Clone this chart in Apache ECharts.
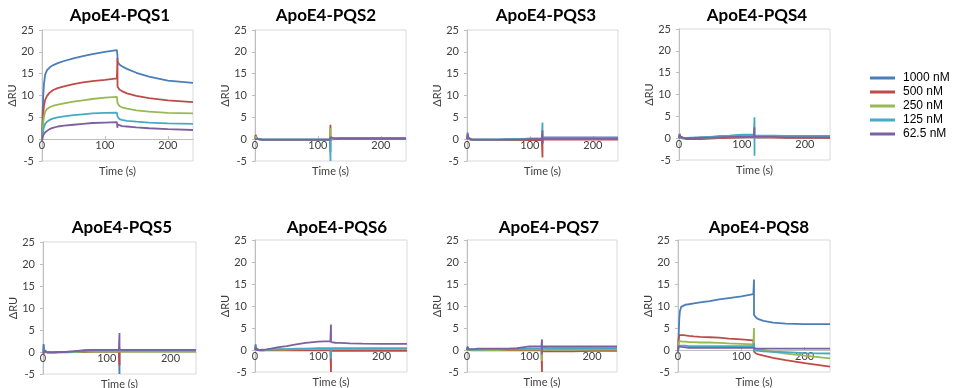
<!DOCTYPE html>
<html><head><meta charset="utf-8">
<script src="https://cdn.jsdelivr.net/npm/echarts@6/dist/echarts.min.js"></script>
<style>html,body{margin:0;padding:0;background:#fff}#c{width:959px;height:388px}</style>
</head><body><div id="c"></div>
<script>
// Time points (s); 120 is repeated to draw the injection-end spikes
const T = [0,1,2,3,5, 8,12,17,25,35,50,65,80,100,119, 120,120,120, 121,123,127,135,150,170,200,240];

const TITLES = ['ApoE4-PQS1','ApoE4-PQS2','ApoE4-PQS3','ApoE4-PQS4','ApoE4-PQS5','ApoE4-PQS6','ApoE4-PQS7','ApoE4-PQS8'];
const NAMES = ['1000 nM','500 nM','250 nM','125 nM','62.5 nM'];
const X_TICKS = [0,100,200];
const Y_TICKS = [-5,0,5,10,15,20,25];

const p1_1000 = [-0.3,6.0,10.0,12.5,14.8, 15.8,16.4,16.9,17.4,17.9,18.5,19.0,19.5,20.0,20.4, 20.8,19.0,17.8, 17.5,17.1,16.7,16.1,15.2,14.3,13.4,12.9];
const p1_500  = [-0.3,3.5,6.0,7.5,9.0, 9.9,10.6,11.2,11.7,12.1,12.6,13.0,13.3,13.6,13.9, 18.6,13.0,12.0, 11.8,11.4,11.0,10.5,9.9,9.4,8.9,8.5];
const p1_250  = [-0.3,2.0,3.8,5.0,6.3, 6.9,7.3,7.6,7.9,8.2,8.6,8.9,9.2,9.5,9.7, 10.0,8.3,8.0, 7.9,7.6,7.3,7.0,6.6,6.3,6.0,5.9];
const p1_125  = [-0.3,1.0,2.0,2.7,3.5, 4.0,4.4,4.7,5.0,5.2,5.5,5.7,5.9,6.0,6.1, 6.3,5.2,4.9, 4.8,4.6,4.4,4.2,4.0,3.8,3.6,3.5];
const p1_62   = [-0.6,0.4,0.9,1.2,1.6, 2.0,2.3,2.6,2.9,3.1,3.3,3.5,3.7,3.8,3.9, 2.6,3.4,3.4, 3.3,3.2,3.0,2.9,2.7,2.5,2.3,2.1];

const p2_1000 = [0,0.5,0.3,0.1,0, -0.1,-0.1,-0.1,-0.1,-0.1,-0.1,-0.1,-0.1,-0.1,-0.1, -3.0,0.2,0.2, 0.2,0.2,0.2,0.3,0.3,0.3,0.3,0.3];
const p2_500  = [0,1.0,0.6,0.2,0, -0.1,-0.2,-0.2,-0.2,-0.2,-0.2,-0.2,-0.2,-0.2,-0.2, 3.3,-0.1,0.0, 0.0,0.0,0.0,0.0,0.0,0.0,0.0,0.0];
const p2_250  = [0,0.6,0.3,0.1,0, -0.1,-0.1,-0.1,-0.1,-0.1,-0.1,-0.1,-0.1,-0.1,-0.1, 2.5,0.1,0.1, 0.1,0.1,0.1,0.1,0.1,0.1,0.1,0.1];
const p2_125  = [0,0.4,0.2,0.1,0, -0.1,-0.1,-0.1,-0.1,-0.1,-0.1,-0.1,-0.1,-0.1,-0.1, -5.0,0.2,0.2, 0.2,0.2,0.2,0.2,0.2,0.2,0.2,0.2];
const p2_62   = [0,0.3,0.2,0.0,0, -0.1,-0.1,-0.1,-0.1,-0.1,-0.1,-0.1,-0.1,-0.1,-0.1, 0.5,0.1,0.1, 0.1,0.1,0.1,0.1,0.1,0.1,0.1,0.1];

const p3_1000 = [0,1.5,0.5,0.1,-0.1, -0.1,-0.1,-0.1,-0.1,-0.1,-0.1,0.0,0.0,0.1,0.1, -1.0,0.4,0.4, 0.4,0.4,0.4,0.4,0.4,0.4,0.4,0.4];
const p3_500  = [0,0.5,0.2,0.0,-0.1, -0.1,-0.2,-0.2,-0.2,-0.2,-0.2,-0.2,-0.2,-0.2,-0.2, -4.2,-0.1,-0.1, -0.1,-0.1,-0.1,-0.1,-0.1,-0.1,-0.1,-0.1];
const p3_250  = [0,0.6,0.2,0.0,-0.1, -0.1,-0.1,-0.1,-0.1,-0.1,-0.1,-0.1,-0.1,0.0,0.0, 1.0,0.1,0.1, 0.1,0.1,0.1,0.1,0.1,0.1,0.1,0.1];
const p3_125  = [0,0.8,0.3,0.0,-0.1, -0.1,-0.1,-0.1,-0.1,-0.1,-0.1,0.0,0.0,0.1,0.1, 3.8,0.3,0.3, 0.3,0.3,0.3,0.3,0.3,0.3,0.3,0.3];
const p3_62   = [0,1.0,0.3,0.0,-0.1, -0.1,-0.1,-0.1,-0.1,-0.1,-0.1,-0.1,-0.1,0.0,0.0, 2.0,-1.0,0.1, 0.1,0.1,0.1,0.1,0.1,0.1,0.1,0.1];

const p4_1000 = [0,0.8,0.3,0.1,0.0, 0.0,0.0,0.0,0.1,0.1,0.2,0.3,0.5,0.6,0.6, 1.0,0.5,0.5, 0.5,0.5,0.5,0.5,0.5,0.5,0.4,0.4];
const p4_500  = [0,0.5,0.2,0.0,-0.1, -0.1,-0.2,-0.2,-0.2,-0.2,-0.1,0.0,0.1,0.2,0.3, 0.3,0.2,0.2, 0.2,0.2,0.2,0.2,0.2,0.1,0.1,0.1];
const p4_250  = [0,0.6,0.3,0.1,0.0, 0.0,0.0,0.0,0.0,0.1,0.1,0.2,0.3,0.4,0.4, 0.4,0.3,0.3, 0.3,0.3,0.3,0.3,0.3,0.3,0.3,0.3];
const p4_125  = [0,0.7,0.3,0.1,0.0, 0.0,0.0,0.1,0.1,0.2,0.3,0.5,0.6,0.8,0.8, 4.8,-4.0,0.6, 0.6,0.6,0.6,0.6,0.6,0.5,0.5,0.5];
const p4_62   = [0,1.0,0.4,0.1,0.0, 0.0,0.0,0.0,0.0,0.1,0.1,0.2,0.3,0.3,0.3, 2.5,0.3,0.3, 0.3,0.3,0.3,0.3,0.3,0.2,0.2,0.2];

const p5_1000 = [0,1.8,0.3,0.0,-0.1, -0.1,-0.1,-0.1,0.0,0.0,0.1,0.3,0.4,0.4,0.4, -5.0,0.4,0.4, 0.4,0.4,0.4,0.4,0.4,0.4,0.4,0.4];
const p5_500  = [0,0.4,0.1,0.0,-0.1, -0.1,-0.1,-0.1,-0.1,-0.1,0.0,0.0,0.1,0.1,0.1, -3.0,0.2,0.2, 0.2,0.2,0.2,0.2,0.2,0.2,0.2,0.2];
const p5_250  = [0,0.5,0.2,0.0,-0.1, -0.1,-0.1,-0.1,-0.1,0.0,0.0,0.1,0.1,0.1,0.1, 0.5,0.1,0.1, 0.1,0.1,0.1,0.1,0.1,0.1,0.1,0.1];
const p5_125  = [0,0.7,0.2,0.0,-0.1, -0.1,-0.1,-0.1,0.0,0.0,0.1,0.2,0.3,0.3,0.3, 1.0,0.3,0.3, 0.3,0.3,0.3,0.3,0.3,0.3,0.3,0.3];
const p5_62   = [0,-0.5,0.5,0.2,0.0, -0.1,-0.1,-0.1,0.0,0.0,0.2,0.4,0.5,0.5,0.5, 4.3,0.5,0.5, 0.5,0.5,0.5,0.5,0.5,0.5,0.5,0.5];

const p6_1000 = [0,1.3,0.4,0.1,0.0, -0.1,-0.1,0.0,0.0,0.1,0.1,0.1,0.2,0.2,0.2, 0.3,0.2,0.2, 0.2,0.2,0.2,0.2,0.2,0.2,0.2,0.2];
const p6_500  = [0,0.6,0.2,0.0,-0.1, -0.1,-0.1,-0.1,-0.1,-0.1,-0.1,-0.1,-0.1,-0.1,-0.1, -5.0,-0.2,-0.2, -0.2,-0.2,-0.2,-0.2,-0.2,-0.2,-0.2,-0.2];
const p6_250  = [0,0.5,0.2,0.0,0.0, 0.0,0.0,0.0,0.1,0.1,0.1,0.2,0.2,0.2,0.2, 0.5,0.2,0.2, 0.2,0.2,0.2,0.2,0.2,0.2,0.2,0.2];
const p6_125  = [0,0.6,0.2,0.0,0.0, 0.0,0.1,0.1,0.1,0.2,0.2,0.3,0.3,0.4,0.4, -2.0,0.4,0.4, 0.4,0.4,0.4,0.4,0.4,0.4,0.4,0.4];
const p6_62   = [0,0.5,0.2,0.0,0.0, 0.0,0.0,0.1,0.3,0.6,0.9,1.3,1.6,1.9,2.0, 5.8,1.8,1.8, 1.75,1.7,1.65,1.6,1.5,1.45,1.4,1.4];

const p7_1000 = [0,0.8,0.2,0.0,0.0, 0.0,0.0,0.0,0.1,0.1,0.1,0.1,0.1,0.1,0.1, 0.5,0.2,0.2, 0.2,0.2,0.2,0.2,0.2,0.2,0.2,0.2];
const p7_500  = [0,0.5,0.1,0.0,-0.1, -0.1,-0.1,-0.1,-0.1,-0.1,-0.1,-0.1,-0.1,-0.1,-0.1, -5.0,-0.3,-0.3, -0.3,-0.3,-0.3,-0.3,-0.3,-0.3,-0.2,-0.2];
const p7_250  = [0,0.4,0.1,0.0,0.0, 0.0,0.0,0.0,0.0,0.0,0.0,0.1,0.1,0.1,0.1, -2.5,0.1,0.1, 0.1,0.1,0.1,0.1,0.1,0.1,0.1,0.1];
const p7_125  = [0,0.6,0.2,0.1,0.1, 0.1,0.1,0.1,0.1,0.2,0.2,0.2,0.2,0.3,0.3, 0.8,0.4,0.4, 0.4,0.4,0.4,0.4,0.4,0.4,0.4,0.4];
const p7_62   = [0,0.6,0.2,0.1,0.1, 0.2,0.2,0.3,0.3,0.3,0.3,0.3,0.4,0.8,0.8, 2.4,-1.0,0.8, 0.8,0.8,0.8,0.8,0.8,0.8,0.8,0.8];

const p8_1000 = [-0.8,3.0,7.0,8.8,9.8, 10.1,10.3,10.4,10.6,10.8,11.1,11.5,11.8,12.2,12.7, 16.0,8.5,8.0, 7.8,7.4,7.0,6.6,6.2,6.0,5.9,5.9];
const p8_500  = [-0.5,2.5,3.4,3.6,3.5, 3.4,3.3,3.2,3.1,3.0,2.9,2.8,2.6,2.4,2.2, 2.3,-0.3,-0.5, -0.6,-0.8,-1.0,-1.3,-1.8,-2.3,-3.0,-3.8];
const p8_250  = [-0.3,1.5,2.0,2.1,2.0, 1.9,1.9,1.8,1.8,1.7,1.7,1.6,1.5,1.4,1.3, 5.0,0.4,0.3, 0.3,0.2,0.1,0.0,-0.4,-0.8,-1.3,-1.9];
const p8_125  = [-0.2,0.9,1.1,1.1,1.0, 1.0,1.0,0.9,0.9,0.9,0.9,0.9,0.9,0.9,0.9, 1.5,-0.1,-0.1, -0.1,-0.1,-0.2,-0.3,-0.4,-0.5,-0.7,-0.8];
const p8_62   = [-0.2,0.8,0.9,0.8,0.7, 0.6,0.6,0.5,0.5,0.5,0.5,0.5,0.5,0.5,0.5, 0.5,0.3,0.3, 0.3,0.3,0.3,0.3,0.3,0.3,0.3,0.3];

const PANELS = [
  [p1_1000,p1_500,p1_250,p1_125,p1_62],
  [p2_1000,p2_500,p2_250,p2_125,p2_62],
  [p3_1000,p3_500,p3_250,p3_125,p3_62],
  [p4_1000,p4_500,p4_250,p4_125,p4_62],
  [p5_1000,p5_500,p5_250,p5_125,p5_62],
  [p6_1000,p6_500,p6_250,p6_125,p6_62],
  [p7_1000,p7_500,p7_250,p7_125,p7_62],
  [p8_1000,p8_500,p8_250,p8_125,p8_62]
];

// ---- layout & style ----
const COLORS = ['#4a7ebb','#be4b48','#98b954','#46aac5','#7d60a0'];
// [left, top, width, height]
const GRIDS = [[42,30,151,131],[255,30,151,131],[467,30,151,131],[679,29,151,131],
               [43,242,153,132],[255,240,152,132],[467,240,150,132],[678,240,152,132]];
const TITLE_POS = [[115,2],[321,2],[541,2],[752,2],[117,214],[332,214],[544,214],[754,214]];
const FONT = 'Lato, "Open Sans", "DejaVu Sans", sans-serif';
const Y_MIN = Y_TICKS[0], Y_MAX = Y_TICKS[Y_TICKS.length-1];

const grid = [], xAxis = [], yAxis = [], title = [], series = [];
GRIDS.forEach((g, i) => {
  grid.push({left:g[0], top:g[1], width:g[2], height:g[3], show:true, borderColor:'#d9d9d9', borderWidth:1,
             containLabel:false, outerBoundsMode:'none'});
  // horizontal axis crosses the vertical axis at 0 (Excel style)
  const zeroOffset = -g[3] * (0 - Y_MIN) / (Y_MAX - Y_MIN);
  xAxis.push({
    gridIndex:i, type:'value', min:X_TICKS[0], max:240, interval:X_TICKS[1]-X_TICKS[0],
    position:'bottom', offset:zeroOffset,
    axisLine:{show:true, onZero:false, lineStyle:{color:'#bfbfbf', width:1}},
    axisTick:{show:true, inside:true, length:3, lineStyle:{color:'#bfbfbf'}},
    axisLabel:{showMaxLabel:false, fontSize:11, color:'#404040', margin:1, fontFamily:FONT},
    splitLine:{show:false},
    name:'Time (s)', nameLocation:'middle', nameGap:27, nameMoveOverlap:false,
    nameTextStyle:{fontSize:11, color:'#404040', fontFamily:FONT}
  });
  yAxis.push({
    gridIndex:i, type:'value', min:Y_MIN, max:Y_MAX, interval:Y_TICKS[1]-Y_TICKS[0],
    axisLine:{show:true, onZero:false, lineStyle:{color:'#bfbfbf', width:1}},
    axisTick:{show:true, length:3, lineStyle:{color:'#bfbfbf'}},
    axisLabel:{fontSize:11, color:'#404040', margin:8, fontFamily:FONT},
    splitLine:{show:false},
    name:'ΔRU', nameLocation:'middle', nameGap:24, nameMoveOverlap:false,
    nameTextStyle:{fontSize:11, color:'#404040', fontFamily:FONT}
  });
  title.push({text:TITLES[i], left:TITLE_POS[i][0], top:TITLE_POS[i][1], textAlign:'center',
    textStyle:{fontSize:17, fontWeight:'bold', color:'#000', fontFamily:FONT}});
  PANELS[i].forEach((vals, s) => {
    series.push({
      type:'line', name:NAMES[s], xAxisIndex:i, yAxisIndex:i,
      data:T.map((t, k) => [t, vals[k]]),
      showSymbol:false, symbol:'none', silent:true,
      lineStyle:{width:1.8, color:COLORS[s]}, itemStyle:{color:COLORS[s]}
    });
  });
});

const chart = echarts.init(document.getElementById('c'), null, {renderer:'canvas'});
chart.setOption({
  animation:false,
  backgroundColor:'#fff',
  title, grid, xAxis, yAxis, series,
  legend:{
    data:NAMES, orient:'vertical', left:865, top:67, itemWidth:25, itemHeight:3, itemGap:2,
    icon:'rect', selectedMode:false,
    textStyle:{fontSize:12, color:'#000', fontFamily:'"Liberation Sans", Arial, sans-serif', padding:[0,0,0,3]}
  }
});
</script></body></html>
